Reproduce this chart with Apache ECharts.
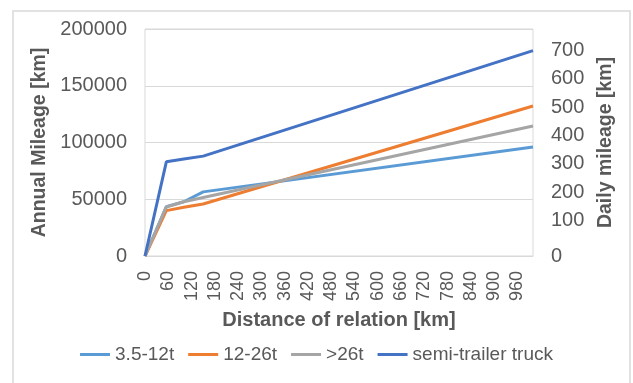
<!DOCTYPE html>
<html>
<head>
<meta charset="utf-8">
<script src="https://cdn.jsdelivr.net/npm/echarts@6/dist/echarts.min.js"></script>
<style>
html,body{margin:0;padding:0;background:#fff;}
#c{width:633px;height:383px;}
</style>
</head>
<body>
<div id="c"></div>
<script>
// Distance of relation [km] at the kink points of each line
const distances = [0, 55, 100, 150, 1000];
// Annual mileage [km]
const lightTruck = [0, 43500, 47800, 56500, 96000];   // 3.5-12t
const mediumTruck = [0, 40000, 42900, 45800, 132200]; // 12-26t
const heavyTruck = [0, 43200, 47800, 51500, 114500];  // >26t
const semiTrailer = [0, 83000, 85500, 88000, 181000]; // semi-trailer truck
const seriesNames = ['3.5-12t', '12-26t', '>26t', 'semi-trailer truck'];
const seriesColors = ['#5B9BD5', '#ED7D31', '#A5A5A5', '#4472C4'];

const FONT = "'Liberation Sans', Arial, sans-serif";
const TXT = '#595959';

function pairs(vals) { return distances.map((d, i) => [d, vals[i]]); }

const chart = echarts.init(document.getElementById('c'), null, {renderer: 'canvas'});
const allData = [lightTruck, mediumTruck, heavyTruck, semiTrailer];

chart.setOption({
  animation: false,
  textStyle: {fontFamily: FONT},
  graphic: [{
    type: 'rect', shape: {x: 13, y: 11, width: 617, height: 400},
    style: {fill: 'none', stroke: '#d9d9d9', lineWidth: 1.5}, silent: true, z: -1
  }],
  grid: {left: 145, right: 100, top: 29, bottom: 127, show: true, borderColor: '#d9d9d9', borderWidth: 1, containLabel: false},
  legend: {
    bottom: 14, left: 'center', icon: 'rect', itemWidth: 30, itemHeight: 3, itemGap: 14,
    textStyle: {fontSize: 19, color: TXT, fontFamily: FONT},
    data: seriesNames
  },
  xAxis: {
    type: 'value', min: 0, max: 1000, interval: 60,
    name: 'Distance of relation [km]', nameLocation: 'middle', nameGap: 54,
    nameTextStyle: {fontSize: 20, fontWeight: 'bold', color: TXT, fontFamily: FONT},
    axisLine: {show: true, lineStyle: {color: '#d9d9d9', width: 1}},
    axisTick: {show: false},
    splitLine: {show: false},
    axisLabel: {rotate: 90, fontSize: 18, color: TXT, margin: 15, showMaxLabel: false, fontFamily: FONT}
  },
  yAxis: [{
    type: 'value', min: 0, max: 200000, interval: 50000,
    name: 'Annual Mileage [km]', nameLocation: 'middle', nameGap: 77, nameRotate: 90,
    nameTextStyle: {fontSize: 19.5, fontWeight: 'bold', color: TXT, fontFamily: FONT},
    axisLine: {show: false}, axisTick: {show: false},
    splitLine: {show: true, lineStyle: {color: '#d9d9d9', width: 1}},
    axisLabel: {fontSize: 20, color: TXT, margin: 18, fontFamily: FONT, formatter: v => String(v)}
  }, {
    type: 'value', min: 0, max: 800, interval: 100, position: 'right',
    name: 'Daily mileage [km]', nameLocation: 'middle', nameGap: 56, nameRotate: 90,
    nameTextStyle: {fontSize: 19.5, fontWeight: 'bold', color: TXT, fontFamily: FONT},
    axisLine: {show: false}, axisTick: {show: false}, splitLine: {show: false},
    axisLabel: {
      fontSize: 20, color: TXT, margin: 18, showMaxLabel: false, fontFamily: FONT,
      formatter: v => v === 0 ? '{z|0}' : '{n|' + v + '}',
      rich: {
        z: {fontSize: 20, color: TXT, fontFamily: FONT},
        n: {fontSize: 20, color: TXT, fontFamily: FONT, padding: [0, 0, 14, 0]}
      }
    }
  }],
  series: allData.map((vals, i) => ({
    name: seriesNames[i], type: 'line', data: pairs(vals),
    symbol: 'none', yAxisIndex: 0,
    lineStyle: {color: seriesColors[i], width: 3}, itemStyle: {color: seriesColors[i]}
  }))
});
</script>
</body>
</html>
